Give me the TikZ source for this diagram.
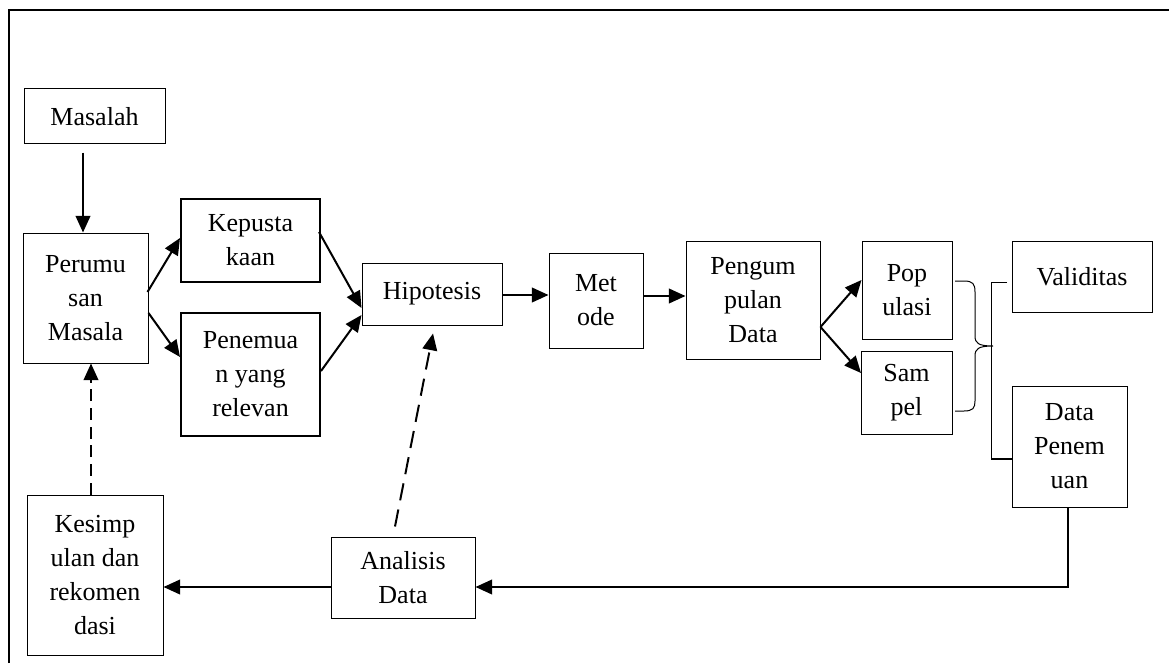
\documentclass[tikz,border=0pt]{standalone}
\usepackage{fontspec}
\setmainfont{Liberation Serif}
\usetikzlibrary{arrows.meta,calc}
\begin{document}
\begin{tikzpicture}[x=0.75pt,y=-0.75pt,
  bx/.style={draw, line width=0.75pt, inner sep=0pt, align=center,
    font=\fontsize{19.5}{25.5}\selectfont},
  bxthick/.style={bx, line width=1.5pt},
  arr/.style={line width=1.5pt, -{Triangle[length=12.5pt,width=11pt]}},
  darr/.style={arr, dash pattern=on 9pt off 5pt},
  ddarr/.style={arr, dash pattern=on 13pt off 7pt},
  thinln/.style={line width=0.75pt},
  frameln/.style={line width=1.5pt}]
\useasboundingbox (0,0) rectangle (1169,663);
% frame
\coordinate (fbl) at (9,663);
\coordinate (ftl) at (9,10);
\coordinate (ftr) at (1169,10);
\draw[frameln] (fbl) -- (ftl) -- (ftr);
% boxes
\node[bx, minimum width={141*0.75pt}, minimum height={55*0.75pt}] (mas) at (94.5,116.5) {Masalah};
\node[bx, minimum width={125*0.75pt}, minimum height={130*0.75pt}] (per) at (85.5,298) {Perumu\\san\\Masala};
\node[bxthick, minimum width={139*0.75pt}, minimum height={83*0.75pt}] (kep) at (250.5,240.5) {Kepusta\\kaan};
\node[bxthick, minimum width={139*0.75pt}, minimum height={123*0.75pt}] (pen) at (250.5,374.5) {Penemua\\n yang\\relevan};
\node[bx, minimum width={140*0.75pt}, minimum height={62*0.75pt}] (hip) at (432,294) {Hipotesis};
\node[bx, minimum width={94*0.75pt}, minimum height={95*0.75pt}] (met) at (596,300.5) {Met\\ode};
\node[bx, minimum width={134*0.75pt}, minimum height={118*0.75pt}] (pgm) at (753,300) {Pengum\\pulan\\Data};
\node[bx, minimum width={90*0.75pt}, minimum height={98*0.75pt}] (pop) at (907,290) {Pop\\ulasi};
\node[bx, minimum width={91*0.75pt}, minimum height={83*0.75pt}] (sam) at (906.5,392.5) {Sam\\pel};
\node[bx, minimum width={140*0.75pt}, minimum height={71*0.75pt}] (val) at (1082,276.5) {Validitas};
\node[bx, minimum width={115*0.75pt}, minimum height={121*0.75pt}] (dpn) at (1069.5,446.5) {Data\\Penem\\uan};
\node[bx, minimum width={136*0.75pt}, minimum height={160*0.75pt}] (kes) at (95,575) {Kesimp\\ulan dan\\rekomen\\dasi};
\node[bx, minimum width={144*0.75pt}, minimum height={81*0.75pt}] (ana) at (403,577.5) {Analisis\\Data};
% arrows
\draw[arr] ($(mas.south)+(-11.5,8)$) -- ($(per.north)+(-2.5,0)$);
\draw[arr] ($(per.east)+(-1,-6)$) -- ($(kep.west)+(0,-2.5)$);
\draw[arr] ($(per.east)+(0,15)$) -- ($(pen.west)+(0,-17.5)$);
\draw[arr] ($(kep.east)+(-2,-8.5)$) -- ($(hip.west)+(0,14)$);
\draw[arr] ($(pen.east)+(0,-3.5)$) -- ($(hip.west)+(0,21)$);
\draw[arr] ($(hip.east)+(0,1)$) -- ($(met.west)+(0,-5.5)$);
\draw[arr] ($(met.east)+(0,-4.5)$) -- ($(pgm.west)+(0,-4)$);
\draw[arr] ($(pgm.east)+(0,27)$) -- ($(pop.west)+(0,-10)$);
\draw[arr] ($(pgm.east)+(0,27)$) -- ($(sam.west)+(0.5,-19.5)$);
\draw[arr] ($(dpn.south)+(-1.5,0)$) |- ($(ana.east)+(0,9.5)$);
\draw[arr] ($(ana.west)+(0,9.5)$) -- ($(kes.east)+(0,12)$);
\draw[ddarr] ($(ana.north)+(-8,-10)$) -- ($(hip.south)+(1,8)$);
\draw[darr] ($(kes.north)+(-4,0)$) -- ($(per.south)+(5.5,0)$);
% brace
\coordinate (brt) at (955,281);
\coordinate (brb) at (955,411);
\coordinate (brm) at (993,346);
\draw[thinln] (brt) -- (964,281) .. controls (973,281) and (975,284) .. (975,292)
  -- (975,336) .. controls (975,343) and (978,346) .. (brm)
  .. controls (978,346) and (975,349) .. (975,356)
  -- (975,401) .. controls (975,408) and (973,411) .. (964,411) -- (brb);
% bracket
\coordinate (bkt) at (1007,282);
\coordinate (bkc) at (991,282);
\coordinate (bkb) at (991,459);
\draw[thinln] (bkt) -- (bkc) -- (bkb);
\draw[line width=1.2pt] (bkb) -- (dpn.west |- bkb);
\end{tikzpicture}
\end{document}
